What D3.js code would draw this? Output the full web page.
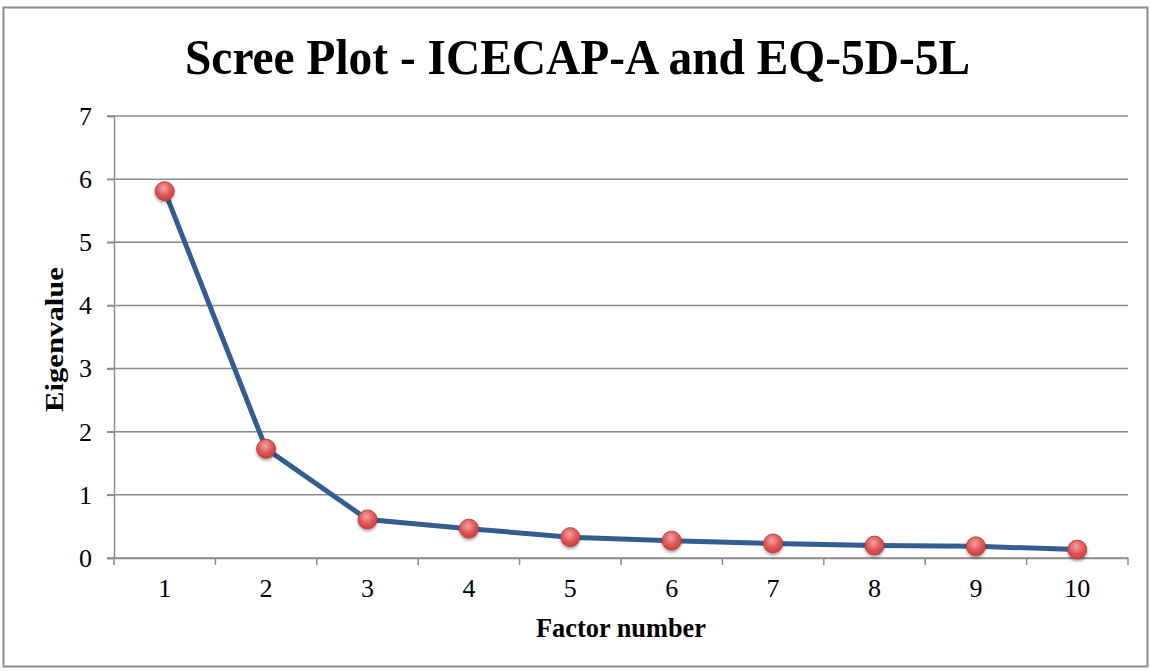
<!DOCTYPE html>
<html>
<head>
<meta charset="utf-8">
<script src="https://cdn.jsdelivr.net/npm/d3@7"></script>
<style>
  body { margin: 0; background: #ffffff; }
  text { font-family: "Liberation Serif", "Times New Roman", serif; }
</style>
</head>
<body>
<svg id="scree"></svg>
<script>
// Chart size and plot margins
const width = 1151, height = 671;
const margin = {top: 116, bottom: 113, left: 114, right: 23};

const factors = ["1", "2", "3", "4", "5", "6", "7", "8", "9", "10"];
const eigenvalues = [5.81, 1.73, 0.61, 0.465, 0.33, 0.275, 0.23, 0.196, 0.185, 0.133];
const yTicks = [0, 1, 2, 3, 4, 5, 6, 7];

const svg = d3.select("#scree")
    .attr("width", width)
    .attr("height", height)
    .style("background", "#ffffff");

// outer frame
svg.append("rect")
    .attr("x", 3.5)
    .attr("y", 7.5)
    .attr("width", width - 7)
    .attr("height", height - 12)
    .attr("fill", "none")
    .attr("stroke", "#8c8c8c")
    .attr("stroke-width", 2);

const xScale = d3.scaleBand()
    .domain(factors)
    .range([margin.left, width - margin.right]);

const yScale = d3.scaleLinear()
    .domain([0, 7])
    .range([height - margin.bottom, margin.top]);

// horizontal grid
svg.append("g")
    .selectAll("line")
    .data(yTicks)
    .join("line")
    .attr("x1", margin.left - 7)
    .attr("x2", width - margin.right)
    .attr("y1", d => yScale(d))
    .attr("y2", d => yScale(d))
    .attr("stroke", "#8c8c8c")
    .attr("stroke-width", 1.5);

// y axis
let yAxis = svg.append("g")
    .attr("transform", `translate(${margin.left},0)`)
    .call(d3.axisLeft(yScale).tickValues(yTicks).tickFormat(d3.format("d")).tickSize(7).tickPadding(15));
yAxis.select(".domain").attr("stroke", "#8c8c8c").attr("stroke-width", 1.5);
yAxis.selectAll(".tick line").attr("stroke", "#8c8c8c").attr("stroke-width", 1.5);
yAxis.selectAll(".tick text")
    .style("font-family", "Liberation Serif")
    .style("font-size", "26px")
    .attr("fill", "#000");

// x axis, ticks between categories
let xAxis = svg.append("g")
    .attr("transform", `translate(0,${height - margin.bottom})`)
    .call(d3.axisBottom(xScale).tickSize(0).tickPadding(21));
xAxis.select(".domain").attr("stroke", "#8c8c8c").attr("stroke-width", 1.5);
xAxis.selectAll(".tick text")
    .style("font-family", "Liberation Serif")
    .style("font-size", "26px")
    .attr("fill", "#000");

const bounds = factors.map(f => xScale(f)).concat([width - margin.right]);
xAxis.selectAll(".xtick")
    .data(bounds)
    .join("line")
    .attr("class", "xtick")
    .attr("x1", d => d)
    .attr("x2", d => d)
    .attr("y1", 0)
    .attr("y2", 7)
    .attr("stroke", "#8c8c8c")
    .attr("stroke-width", 1.5);

// titles
svg.append("text")
    .attr("x", 185)
    .attr("y", 74)
    .attr("textLength", 785)
    .attr("lengthAdjust", "spacingAndGlyphs")
    .style("font-size", "50px")
    .style("font-weight", "bold")
    .text("Scree Plot - ICECAP-A and EQ-5D-5L");

svg.append("text")
    .attr("x", 536)
    .attr("y", 637)
    .attr("textLength", 170)
    .attr("lengthAdjust", "spacingAndGlyphs")
    .style("font-size", "27px")
    .style("font-weight", "bold")
    .text("Factor number");

svg.append("text")
    .attr("transform", `translate(63,412) rotate(-90)`)
    .attr("textLength", 145)
    .attr("lengthAdjust", "spacingAndGlyphs")
    .style("font-size", "26px")
    .style("font-weight", "bold")
    .text("Eigenvalue");

// data line
const data = factors.map((f, i) => ({x: f, y: eigenvalues[i]}));
const cx = d => xScale(d.x) + xScale.bandwidth() / 2;

svg.append("path")
    .datum(data)
    .attr("fill", "none")
    .attr("stroke", "#325d92")
    .attr("stroke-width", 5)
    .attr("stroke-linejoin", "round")
    .attr("d", d3.line().x(cx).y(d => yScale(d.y)));

// markers
const defs = svg.append("defs");
const grad = defs.append("radialGradient")
    .attr("id", "ball")
    .attr("cx", "45%").attr("cy", "35%").attr("r", "65%");
grad.append("stop").attr("offset", "0%").attr("stop-color", "#f7a5a3");
grad.append("stop").attr("offset", "55%").attr("stop-color", "#e05a58");
grad.append("stop").attr("offset", "100%").attr("stop-color", "#c8403e");

const shadow = defs.append("filter").attr("id", "shadow")
    .attr("x", "-50%").attr("y", "-50%").attr("width", "200%").attr("height", "200%");
shadow.append("feDropShadow")
    .attr("dx", 0).attr("dy", 2).attr("stdDeviation", 1.5)
    .attr("flood-color", "#000").attr("flood-opacity", 0.35);

svg.append("g")
    .selectAll("circle")
    .data(data)
    .join("circle")
    .attr("cx", cx)
    .attr("cy", d => yScale(d.y))
    .attr("r", 9.5)
    .attr("fill", "url(#ball)")
    .attr("stroke", "#b84644")
    .attr("stroke-width", 1)
    .attr("filter", "url(#shadow)");
</script>
</body>
</html>
